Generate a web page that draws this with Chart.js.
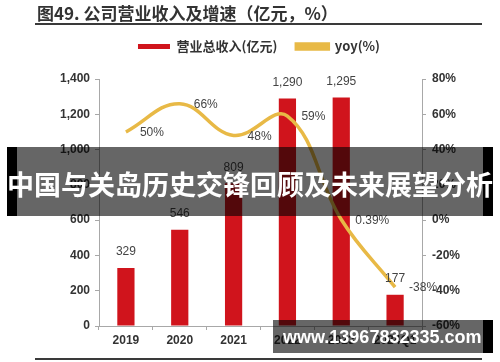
<!DOCTYPE html>
<html>
<head>
<meta charset="utf-8">
<script src="https://cdn.jsdelivr.net/npm/chart.js@4"></script>
<style>
  html, body { margin: 0; padding: 0; background: #fff; }
  #wrap { position: relative; width: 500px; height: 362px; overflow: hidden; }
  #c { position: absolute; left: 0; top: 0; }
  #title { position: absolute; left: 37px; top: 0px; font: bold 17px "Noto Sans CJK SC", sans-serif; color: #333; white-space: nowrap; }
  #rule1 { position: absolute; left: 35px; top: 23px; width: 447px; height: 2px; background: #3a3a3a; }
  #rule2 { position: absolute; left: 35px; top: 358px; width: 447px; height: 2px; background: #3a3a3a; }
  #banner { position: absolute; left: 7px; top: 147px; width: 486px; height: 69px; background: rgba(0,0,0,0.6); }
  #banner .endl { position: absolute; left: 0; top: 0; width: 10px; height: 100%; background: #000; }
  #banner .endr { position: absolute; right: 0; top: 0; width: 10px; height: 100%; background: #000; }
  #banner .txt { position: absolute; left: 0; top: 20px; width: 486px; text-align: center; font: bold 27px/34px "Noto Sans CJK SC", sans-serif; color: #fff; white-space: nowrap; }
  #wm { position: absolute; left: 273px; top: 320px; width: 220px; height: 33px; background: rgba(0,0,0,0.6); }
  #wm .endr { position: absolute; right: 0; top: 0; width: 10px; height: 100%; background: #000; }
  #wm .txt { position: absolute; left: 10px; top: 6px; font: bold 18px/22px "Liberation Sans", Arial, sans-serif; color: #fff; white-space: nowrap; }
</style>
</head>
<body>
<div id="wrap">
  <canvas id="c" width="500" height="362"></canvas>
  <div id="title">图49. 公司营业收入及增速（亿元，%）</div>
  <div id="rule1"></div>
  <div id="rule2"></div>
  <div id="banner"><div class="endl"></div><div class="endr"></div><div class="txt">中国与关岛历史交锋回顾及未来展望分析</div></div>
  <div id="wm"><div class="endr"></div><div class="txt">www.13967832335.com</div></div>
</div>
<script>
const categories = ['2019', '2020', '2021', '2022', '2023', '2024Q1'];
const revenue = [329, 546, 809, 1290, 1295, 177];
const yoy = [50, 66, 48, 59, 0.39, -38];
const yoyLabels = ['50%', '66%', '48%', '59%', '0.39%', '-38%'];
const revenueTicks = [0, 200, 400, 600, 800, 1000, 1200, 1400];
const yoyTicks = [-60, -40, -20, 0, 20, 40, 60, 80];

const RED = '#d0141c';
const GOLD = '#e8b946';
const AXIS = '#a8a8a8';

const layoutFix = {
  id: 'layoutFix',
  afterInit(chart) {
    const lg = chart.legend;
    if (lg) {
      const f = lg.fit.bind(lg);
      lg.fit = function () { f(); this.height = 58; };
    }
  },
  afterLayout(chart) {
    const lg = chart.legend;
    if (lg) { lg.left += 9; lg.right += 9; }
  }
};

const valueLabels = {
  id: 'valueLabels',
  afterDatasetsDraw(chart) {
    const ctx = chart.ctx;
    ctx.save();
    ctx.font = '12px "Liberation Sans", Arial, sans-serif';
    ctx.fillStyle = '#444';
    ctx.textBaseline = 'middle';
    const bars = chart.getDatasetMeta(0).data;
    ctx.textAlign = 'center';
    bars.forEach((el, i) => {
      ctx.fillText(revenue[i].toLocaleString('en-US'), el.x, el.y - 16);
    });
    const pts = chart.getDatasetMeta(1).data;
    ctx.textAlign = 'left';
    pts.forEach((el, i) => {
      ctx.fillText(yoyLabels[i], el.x + 14, el.y + 1);
    });
    ctx.restore();
  }
};

new Chart(document.getElementById('c'), {
  data: {
    labels: categories,
    datasets: [
      {
        type: 'bar',
        label: '营业总收入(亿元)',
        data: revenue,
        yAxisID: 'y',
        backgroundColor: RED,
        borderWidth: 0,
        barPercentage: 0.32,
        categoryPercentage: 1,
        order: 2
      },
      {
        type: 'line',
        label: 'yoy(%)',
        data: yoy,
        yAxisID: 'y1',
        borderColor: GOLD,
        backgroundColor: GOLD,
        borderWidth: 3.5,
        pointRadius: 0,
        tension: 0.4,
        order: 1
      }
    ]
  },
  options: {
    responsive: false,
    animation: false,
    layout: { padding: { top: 21, left: 0, right: 0, bottom: 10 } },
    plugins: {
      legend: {
        position: 'top',
        labels: {
          boxWidth: 32,
          boxHeight: 5,
          padding: 19,
          color: '#333',
          sort: (a, b) => a.datasetIndex - b.datasetIndex,
          font: { family: '"Noto Sans CJK SC", sans-serif', size: 13, weight: 'bold' }
        }
      },
      tooltip: { enabled: false },
      title: { display: false }
    },
    scales: {
      x: {
        offset: true,
        grid: { display: true, offset: true, drawOnChartArea: false, drawTicks: true, tickLength: 4, color: AXIS },
        border: { display: true, color: AXIS, width: 1 },
        ticks: { color: '#333', padding: 3, font: { family: '"Liberation Sans", Arial, sans-serif', size: 12, weight: 'bold' } },
        afterFit(s) { s.height = 26; }
      },
      y: {
        position: 'left',
        min: 0, max: 1400,
        afterBuildTicks(s) { s.ticks = revenueTicks.map(v => ({ value: v })); },
        grid: { display: true, drawOnChartArea: false, drawTicks: true, tickLength: 4, color: AXIS },
        border: { display: true, color: AXIS, width: 1 },
        ticks: {
          color: '#333', padding: 5,
          font: { family: '"Liberation Sans", Arial, sans-serif', size: 12, weight: 'bold' },
          callback: v => v.toLocaleString('en-US')
        },
        afterFit(s) { s.width = 99; }
      },
      y1: {
        position: 'right',
        min: -60, max: 80,
        afterBuildTicks(s) { s.ticks = yoyTicks.map(v => ({ value: v })); },
        grid: { display: true, drawOnChartArea: false, drawTicks: true, tickLength: 4, color: AXIS },
        border: { display: true, color: AXIS, width: 1 },
        ticks: {
          color: '#333', padding: 6,
          font: { family: '"Liberation Sans", Arial, sans-serif', size: 12, weight: 'bold' },
          callback: v => v + '%'
        },
        afterFit(s) { s.width = 78; }
      }
    }
  },
  plugins: [layoutFix, valueLabels]
});
</script>
</body>
</html>
